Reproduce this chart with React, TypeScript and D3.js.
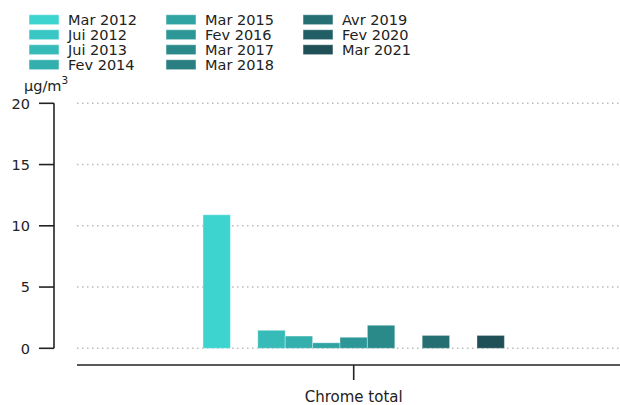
import React from "react";
import * as d3 from "d3";

const categories = ["Chrome total"];
const seriesNames = ["Mar 2012", "Jui 2012", "Jui 2013", "Fev 2014", "Mar 2015", "Fev 2016", "Mar 2017", "Mar 2018", "Avr 2019", "Fev 2020", "Mar 2021"];
const seriesValues: (number | null)[] = [10.9, null, 1.47, 1.0, 0.45, 0.9, 1.88, null, 1.05, null, 1.05];
const seriesColors = ["#3dd3cf", "#38c7c4", "#36bbb9", "#33afae", "#30a3a3", "#2d9797", "#2a8a8a", "#287e80", "#256f73", "#225e65", "#1f4f57"];
const yTicks = [0, 5, 10, 15, 20];

const W = 620, H = 405;
const FONT = "DejaVu Sans, sans-serif";

export default function App() {
  const y = d3.scaleLinear().domain([0, 20]).range([348.3, 103.3]);
  const center = 353.7;
  const slot = 27.4;
  const groupStart = center - (slot * seriesNames.length) / 2;
  const x1 = d3.scaleBand().domain(seriesNames).range([groupStart, groupStart + slot * seriesNames.length]);

  const legendCols = [
    { sx: 29, tx: 68, items: seriesNames.slice(0, 4) },
    { sx: 166, tx: 205, items: seriesNames.slice(4, 8) },
    { sx: 303, tx: 342, items: seriesNames.slice(8, 11) },
  ];

  return (
    <svg width={W} height={H} style={{ position: "absolute", left: 0, top: 0 }} fontFamily={FONT}>
      <rect width={W} height={H} fill="#fff" />
      {legendCols.map((col) =>
        col.items.map((name, ri) => {
          const idx = seriesNames.indexOf(name);
          const yc = 19.7 + ri * 15;
          return (
            <g key={name}>
              <rect x={col.sx} y={yc - 5} width={30} height={10} fill={seriesColors[idx]} stroke="#ffffff" strokeOpacity={0.5} strokeWidth={1} />
              <text x={col.tx} y={yc + 5} fontSize={14.5} fill="#222">{name}</text>
            </g>
          );
        })
      )}
      <text x={24} y={91} fontSize={14.5} fill="#222">µg/m<tspan dy={-7} fontSize={10.5}>3</tspan></text>
      {yTicks.map((t) => (
        <line key={"g" + t} x1={77} x2={620} y1={y(t)} y2={y(t)} stroke="#bbbbbb" strokeWidth={1.5} strokeDasharray="1.5,3.5" />
      ))}
      <line x1={54} x2={54} y1={y(20)} y2={y(0)} stroke="#222" strokeWidth={1.6} />
      {yTicks.map((t) => (
        <g key={"t" + t}>
          <line x1={39} x2={54} y1={y(t)} y2={y(t)} stroke="#222" strokeWidth={1.6} />
          <text x={30} y={y(t) + 5.3} fontSize={14.5} textAnchor="end" fill="#222">{t}</text>
        </g>
      ))}
      {seriesValues.map((v, i) =>
        v == null ? null : (
          <rect key={"b" + i} x={x1(seriesNames[i])!} y={y(v)} width={x1.bandwidth()} height={y(0) - y(v)} fill={seriesColors[i]} stroke="#ffffff" strokeOpacity={0.35} strokeWidth={1} />
        )
      )}
      <line x1={77} x2={620} y1={365} y2={365} stroke="#222" strokeWidth={1.6} />
      {categories.map((c) => (
        <g key={c}>
          <line x1={center} x2={center} y1={365} y2={380} stroke="#222" strokeWidth={1.6} />
          <text x={center} y={401.5} fontSize={15} textAnchor="middle" fill="#222">{c}</text>
        </g>
      ))}
    </svg>
  );
}
